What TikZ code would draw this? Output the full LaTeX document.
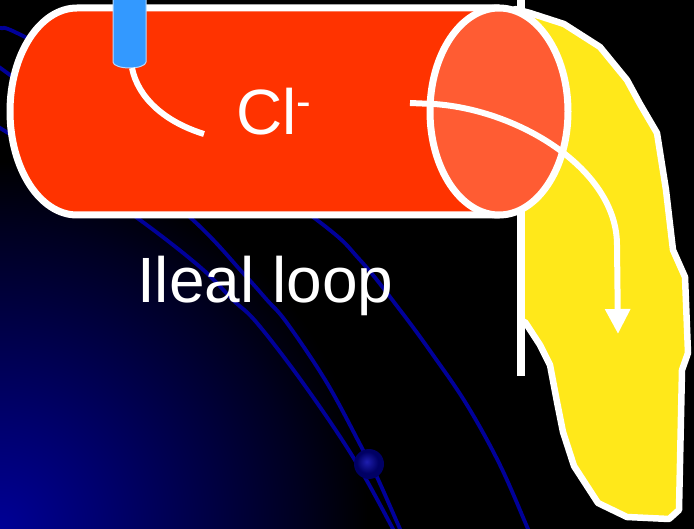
\documentclass[tikz,border=0pt]{standalone}
\usepackage{fontspec}
\setmainfont{Liberation Sans}
\usetikzlibrary{arrows.meta}

\definecolor{bodyred}{HTML}{FF3300}
\definecolor{capred}{HTML}{FF5C33}
\definecolor{tubeblue}{HTML}{3399FF}
\definecolor{tuberim}{HTML}{B8D8FF}
\definecolor{bileyellow}{HTML}{FFE81A}
\definecolor{orbitblue}{HTML}{000099}
\definecolor{glowA}{RGB}{0,0,150}
\definecolor{glowB}{RGB}{0,0,112}
\definecolor{glowC}{RGB}{0,0,72}
\definecolor{glowD}{RGB}{0,0,32}
\definecolor{ballhi}{RGB}{30,30,175}
\definecolor{balllo}{RGB}{0,0,100}

% soft blue glow rising from the lower left corner (25bp = shaded radius)
\pgfdeclareradialshading{cornerglow}{\pgfpoint{0bp}{0bp}}{%
  color(0bp)=(glowA); color(6.25bp)=(glowB); color(12.5bp)=(glowC);
  color(18.75bp)=(glowD); color(23bp)=(black); color(50bp)=(black)}
% small bead sitting on the orbit lines
\pgfdeclareradialshading{beadshade}{\pgfpoint{-4bp}{4bp}}{%
  color(0bp)=(ballhi); color(18bp)=(balllo); color(50bp)=(balllo)}

\begin{document}
\begin{tikzpicture}[x=1pt,y=-1pt,
  orbit/.style={draw=orbitblue, line width=3.8pt},
  outline/.style={draw=white, line width=7pt, line join=round},
  flowline/.style={draw=white, line width=6pt},
  label/.style={text=white, inner sep=0pt, font=\fontsize{64}{70}\selectfont}]

\useasboundingbox (0,0) rectangle (694,529);
\fill[black] (0,0) rectangle (694,529);

\begin{scope}
  \clip (0,0) rectangle (694,529);
  \shade[shading=cornerglow] (0,529) circle (400pt);
  % orbit lines
  \draw[orbit] plot[smooth, tension=0.6] coordinates {(-10,121) (0,128) (60,165) (140,220) (200,267) (233,300) (257,323) (303,383) (353,457) (393,529) (400,545)};
  \draw[orbit] plot[smooth, tension=0.6] coordinates {(-10,61) (10,75) (100,142) (193,220) (243,273) (267,300) (287,323) (327,383) (363,450) (377,477) (400,529) (407,545)};
  \draw[orbit] plot[smooth, tension=0.6] coordinates {(-10,25) (0,28) (25,37) (170,115) (317,220) (360,260) (400,310) (433,355) (467,405) (500,465) (528,529) (535,545)};
  \shade[shading=beadshade] (369,464) circle (15pt);
\end{scope}

% yellow pouch hanging from the end of the loop
\filldraw[fill=bileyellow, draw=white, line width=6.5pt, line join=round]
  (515,9) -- (530,13) -- (564,24) -- (600,47) -- (627,80) -- (640,104)
  -- (657,133) -- (666,190) -- (673,250) -- (685,277) -- (688,353)
  -- (682,370) -- (679,510) -- (669,519) -- (627,517) -- (598,503)
  -- (574,466) -- (563,432) -- (557,402) -- (550,365) -- (540,345)
  -- (525,322) -- (521,322) -- (521,110) -- cycle;

% vertical divider
\coordinate (divtop) at (521,0);
\coordinate (divbot) at (521,376);
\draw[white, line width=8pt] (divtop) -- (divbot);

% cylinder body
\filldraw[fill=bodyred, outline]
  (499,8) -- (77,8)
  arc[start angle=90, end angle=270, x radius=67pt, y radius=103.5pt]
  -- (499,215) -- cycle;

% infusion tube entering from above
\filldraw[fill=tubeblue, draw=tuberim, line width=1pt]
  (113,-5) -- (113,62)
  arc[start angle=180, end angle=360, x radius=16.5pt, y radius=6pt]
  -- (146,-5) -- cycle;

% open end of the cylinder
\filldraw[fill=capred, outline] (499,111.5) ellipse [x radius=69pt, y radius=103.5pt];

% flow from the tube
\coordinate (tubeend) at (132,68);
\coordinate (dripend) at (204,134);
\draw[flowline] (tubeend) .. controls (138,98) and (165,122) .. (dripend);

% flow out of the loop into the pouch
\coordinate (flowstart) at (410,103);
\coordinate (flowbend) at (434,104);
\coordinate (flowend) at (618,334);
\draw[flowline, -{Triangle[width=24pt,length=25pt]}]
  (flowstart) -- (flowbend) .. controls (520,110) and (617,170) .. (617,245) -- (flowend);

% labels
\node[label, anchor=base west] (ion) at (236,135)
  {Cl\raisebox{18pt}{\fontsize{44}{44}\selectfont -}};
\node[label, anchor=base west] (name) at (137,303) {Ileal loop};
\end{tikzpicture}
\end{document}
